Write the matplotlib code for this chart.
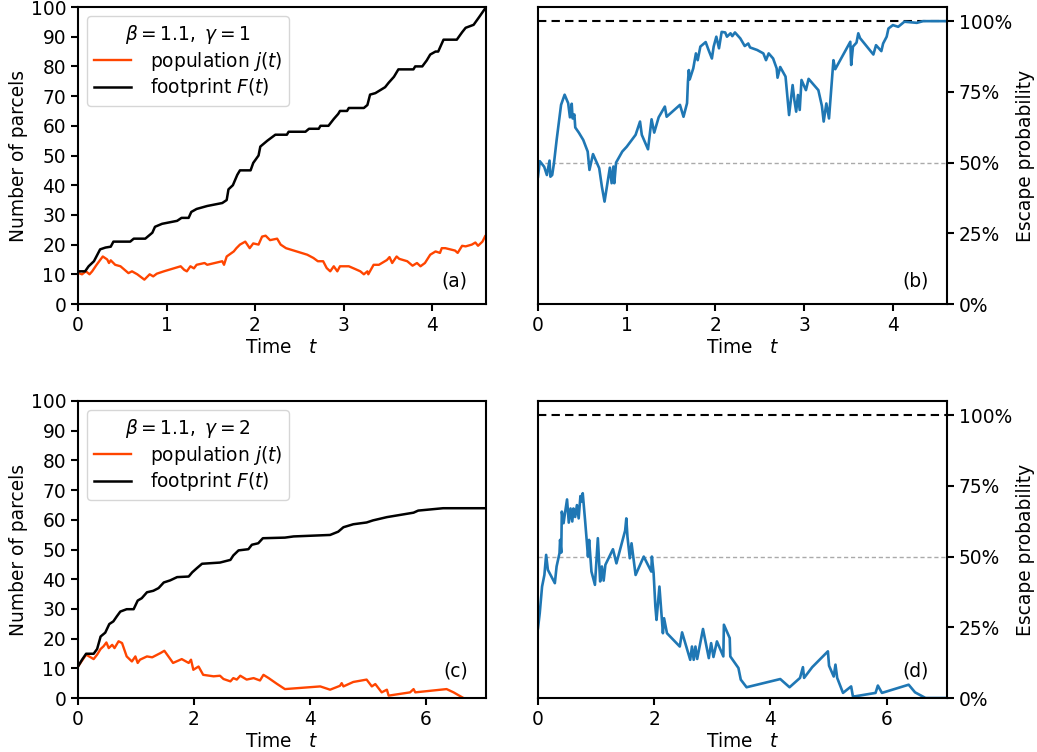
import matplotlib
matplotlib.use("Agg")
import matplotlib.pyplot as plt
from matplotlib.ticker import FixedLocator, FuncFormatter

# ---------------- data ----------------
# panel (a): beta=1.1, gamma=1
tF_a = [0, 0.08, 0.12, 0.18, 0.25, 0.31, 0.37, 0.40, 0.59, 0.63, 0.76, 0.84, 0.87, 0.95, 1.12,
        1.17, 1.25, 1.28, 1.34, 1.46, 1.63, 1.68, 1.70, 1.75, 1.80, 1.83, 1.95, 1.98, 2.04, 2.06,
        2.14, 2.23, 2.36, 2.38, 2.57, 2.61, 2.72, 2.74, 2.83, 2.89, 2.94, 2.96, 3.04, 3.06, 3.23,
        3.27, 3.30, 3.36, 3.47, 3.51, 3.57, 3.62, 3.79, 3.81, 3.89, 3.94, 3.98, 4.04, 4.07, 4.13,
        4.28, 4.34, 4.38, 4.47, 4.53, 4.60]
F_a = [11, 11, 12.7, 14.4, 18.4, 19, 19.3, 21, 21, 22, 22, 24, 26, 27, 28,
       29, 29, 31, 32, 33, 34, 35, 38.6, 40, 43.5, 45, 45, 47.5, 50, 53,
       55, 57, 57, 58, 58, 59, 59, 60, 60, 62.3, 64, 65, 65, 66, 66,
       67, 70.5, 71, 73, 74.5, 76.5, 79, 79, 80, 80, 82, 84, 85, 85, 89,
       89, 91.5, 93, 94, 96.5, 99.5]
tj_a = [0, 0.045, 0.09, 0.13, 0.16, 0.21, 0.28, 0.33, 0.35, 0.37, 0.42, 0.48, 0.57, 0.61, 0.67,
        0.75, 0.81, 0.85, 0.89, 0.97, 1.16, 1.20, 1.23, 1.27, 1.31, 1.34, 1.43, 1.46, 1.63, 1.65,
        1.68, 1.76, 1.79, 1.83, 1.89, 1.94, 1.98, 2.04, 2.08, 2.12, 2.17, 2.25, 2.29, 2.35, 2.47,
        2.59, 2.66, 2.71, 2.77, 2.81, 2.85, 2.89, 2.93, 2.96, 3.06, 3.13, 3.19, 3.23, 3.27, 3.28,
        3.34, 3.40, 3.49, 3.52, 3.55, 3.60, 3.63, 3.72, 3.78, 3.83, 3.87, 3.92, 3.98, 4.04, 4.09,
        4.11, 4.15, 4.26, 4.29, 4.34, 4.38, 4.45, 4.49, 4.52, 4.57, 4.60]
j_a = [10.5, 10, 11, 10, 11, 13.2, 16, 15, 13.8, 14.7, 13.2, 12.7, 10.4, 11, 10,
       8.2, 10, 9.3, 10.2, 11, 12.7, 11.5, 11, 12.7, 12, 13.2, 13.8, 13.2, 14.4, 13.2,
       16, 17.7, 18.8, 20, 21, 18.8, 20.4, 20, 22.7, 23, 21.5, 22, 20, 18.8, 17.7,
       16.6, 15.5, 14.4, 14.4, 12.1, 11, 12.7, 11, 12.7, 12.7, 11.8, 11, 10, 11, 10,
       13.2, 13.2, 14.8, 15.8, 13.8, 16, 15.2, 14.4, 12.9, 13.8, 12.7, 13.8, 16.6, 17.7, 17.2,
       18.8, 18.8, 18, 17.2, 19.6, 19.4, 20, 20.7, 19.6, 21, 22.8]

# panel (b): escape probability (percent)
tp_b = [0, 0.02, 0.07, 0.10, 0.13, 0.14, 0.16, 0.18, 0.21, 0.26,
        0.30, 0.34, 0.36, 0.38, 0.39, 0.41, 0.42, 0.46, 0.51, 0.56,
        0.58, 0.62, 0.69, 0.72, 0.75, 0.81, 0.83, 0.85, 0.86, 0.88,
        0.95, 1.00, 1.10, 1.15, 1.17, 1.24, 1.28, 1.31, 1.36, 1.43,
        1.45, 1.60, 1.64, 1.68, 1.69, 1.70, 1.71, 1.75, 1.78, 1.80,
        1.83, 1.89, 1.92, 1.96, 1.98, 2.01, 2.04, 2.07, 2.11, 2.13,
        2.17, 2.19, 2.22, 2.28, 2.33, 2.37, 2.39, 2.47, 2.54, 2.57,
        2.60, 2.65, 2.69, 2.70, 2.73, 2.79, 2.83, 2.87, 2.89, 2.91,
        2.93, 2.95, 2.97, 3.02, 3.05, 3.16, 3.20, 3.22, 3.25, 3.28,
        3.33, 3.35, 3.52, 3.53, 3.55, 3.59, 3.61, 3.63, 3.78, 3.81,
        3.87, 3.89, 3.93, 3.95, 4.00, 4.06, 4.13, 4.27, 4.34, 4.60]
p_b = [45, 50.5, 48.5, 45.6, 50.7, 45, 45.6, 49.8, 58, 70.4,
       74, 71, 66, 70.8, 65.6, 67, 62.4, 60.6, 58, 53.9,
       47.4, 53, 48, 41.5, 36.2, 48.2, 42.7, 48.6, 42.7, 50,
       53.9, 55.6, 59.8, 64.5, 59.8, 54.7, 65.3, 60.6, 66, 69.8,
       66.2, 70.4, 66.2, 71, 78.6, 82.7, 79.4, 83.3, 88.6, 86.2,
       91, 92.6, 90, 86.8, 91, 94.5, 90.4, 96.2, 96, 94.5,
       95.7, 94.7, 96, 93.9, 91.2, 92.1, 90.7, 89.8, 88.6, 86.2,
       88.6, 86.8, 83.3, 80, 83.8, 80.4, 66.8, 77.4, 72, 68,
       73.9, 68.6, 79.2, 75.6, 79.6, 75.6, 70, 64.5, 70.9, 65.6,
       86.2, 83, 92.7, 84.5, 91, 92.4, 95.7, 94, 88.2, 91.5,
       89.4, 92.1, 94.5, 97.4, 98.6, 98, 99.8, 99.4, 100, 100]

# panel (c): beta=1.1, gamma=2
tF_c = [0, 0.07, 0.14, 0.27, 0.33, 0.39, 0.47, 0.54, 0.61, 0.67,
        0.73, 0.84, 0.96, 1.03, 1.10, 1.19, 1.30, 1.39, 1.48, 1.59,
        1.71, 1.91, 1.97, 2.05, 2.14, 2.45, 2.63, 2.68, 2.77, 2.94,
        3.00, 3.11, 3.19, 3.57, 3.72, 4.35, 4.49, 4.58, 4.75, 4.98,
        5.09, 5.33, 5.79, 5.87, 6.30, 7.04]
F_c = [10.6, 12.9, 14.9, 14.9, 16.5, 20.7, 22, 24.9, 25.8, 27.5,
       29.1, 29.9, 29.9, 32.8, 33.6, 35.6, 36.1, 37, 38.9, 39.6,
       40.7, 40.9, 42.3, 43.7, 45.2, 45.6, 46.5, 48, 49.7, 50.1,
       51.6, 52.1, 53.8, 54, 54.4, 54.9, 56, 57.5, 58.5, 59.1,
       59.8, 60.9, 62.4, 63.1, 63.9, 63.9]
tj_c = [0, 0.14, 0.27, 0.33, 0.39, 0.44, 0.49, 0.53, 0.59, 0.63,
        0.70, 0.76, 0.84, 0.93, 0.99, 1.03, 1.07, 1.19, 1.28, 1.42,
        1.49, 1.56, 1.64, 1.79, 1.91, 1.95, 1.99, 2.08, 2.16, 2.34,
        2.45, 2.51, 2.63, 2.68, 2.74, 2.80, 2.91, 3.03, 3.14, 3.20,
        3.29, 3.43, 3.57, 4.18, 4.35, 4.52, 4.55, 4.58, 4.75, 4.98,
        5.07, 5.13, 5.24, 5.33, 5.36, 5.73, 5.79, 5.82, 6.36, 6.48,
        6.65]
j_c = [10.6, 14.6, 13.1, 14.6, 16.5, 17.4, 18.7, 16.8, 17.9, 16.8,
       19.1, 18.5, 14, 12.3, 14, 11.8, 12.9, 14, 13.7, 15.1,
       15.9, 14, 11.8, 13.1, 11.8, 12.9, 9.5, 10.6, 7.8, 7.3,
       7.5, 6.4, 5.6, 6.7, 6.2, 7.5, 6.2, 6.7, 5.9, 7.8,
       6.7, 4.8, 3.0, 3.9, 2.8, 4.1, 5.0, 3.9, 5.4, 6.2,
       3.9, 4.7, 1.9, 2.8, 0.8, 1.9, 3.0, 1.9, 3.0, 1.9,
       0]

# panel (d): escape probability (percent)
tp_d = [0, 0.03, 0.07, 0.11, 0.14, 0.17, 0.29, 0.32, 0.37, 0.38,
        0.40, 0.41, 0.44, 0.46, 0.50, 0.53, 0.56, 0.59, 0.61, 0.64,
        0.67, 0.70, 0.73, 0.76, 0.77, 0.81, 0.84, 0.86, 0.88, 0.92,
        0.98, 1.03, 1.07, 1.10, 1.13, 1.16, 1.29, 1.35, 1.50, 1.52,
        1.54, 1.58, 1.61, 1.68, 1.82, 1.95, 1.96, 1.99, 2.02, 2.04,
        2.09, 2.15, 2.17, 2.22, 2.44, 2.48, 2.62, 2.65, 2.68, 2.71,
        2.74, 2.84, 2.94, 2.98, 3.02, 3.08, 3.19, 3.20, 3.30, 3.31,
        3.45, 3.49, 3.59, 4.17, 4.33, 4.51, 4.56, 4.58, 4.72, 4.99,
        5.01, 5.09, 5.12, 5.15, 5.25, 5.39, 5.42, 5.46, 5.81, 5.85,
        5.92, 6.38, 6.49, 6.67, 7.04]
p_d = [24.7, 30, 39.4, 43.5, 50.6, 45.3, 40.6, 46.5, 51.2, 55.9,
       51.4, 65.9, 61.8, 64.7, 70.2, 62, 67, 62.4, 67, 64,
       68.2, 63.5, 71.4, 69.4, 72.4, 62.9, 55.3, 50, 55.9, 44.7,
       40, 56.5, 41.2, 46.5, 41.5, 47.1, 52.6, 47.6, 59.2, 63.5,
       57, 49.4, 54.7, 43.5, 50, 44.7, 50, 44.1, 32.4, 27.6,
       39.4, 22.9, 28.2, 22.9, 18.2, 23.2, 13.5, 18.2, 13.5, 18.2,
       13.8, 24.4, 14.1, 19.4, 14.5, 20, 14.7, 25.9, 21.2, 14.7,
       10.6, 6.5, 3.8, 6.7, 3.8, 7.1, 10.9, 7.1, 10.9, 16.5,
       11.4, 7.6, 11.8, 7.1, 1.8, 4.1, 0.6, 0.6, 1.8, 4.4,
       1.8, 4.7, 2.0, 0, 0]

legend_titles = [r"$\beta = 1.1,\ \gamma = 1$", r"$\beta = 1.1,\ \gamma = 2$"]
panel_tags = ["(a)", "(b)", "(c)", "(d)"]
xmax = [4.61, 7.04]

# ---------------- style ----------------
FS = 13.4
plt.rcParams.update({
    "font.family": "DejaVu Sans",
    "font.size": FS,
    "axes.linewidth": 1.5,
    "xtick.major.width": 1.5,
    "ytick.major.width": 1.5,
    "xtick.major.size": 5,
    "ytick.major.size": 5,
    "mathtext.fontset": "dejavusans",
})
ORANGE = "#ff4500"
BLUE = "#1f77b4"

fig = plt.figure(figsize=(10.37, 7.52), dpi=100)
W, H = 1037, 752
def add_ax(l, r, top, bot):
    return fig.add_axes([l / W, 1 - bot / H, (r - l) / W, (bot - top) / H])

ax_a = add_ax(78, 486, 7, 304)
ax_b = add_ax(538, 947, 7, 304)
ax_c = add_ax(78, 486, 401, 698)
ax_d = add_ax(538, 947, 401, 698)

pop_sets = [(ax_a, tj_a, j_a, tF_a, F_a), (ax_c, tj_c, j_c, tF_c, F_c)]
for k, (ax, tj, jj, tF, FF) in enumerate(pop_sets):
    ax.plot(tj, jj, color=ORANGE, lw=1.7, label=r"population $j(t)$")
    ax.plot(tF, FF, color="black", lw=1.8, label=r"footprint $F(t)$")
    ax.set_xlim(0, xmax[k])
    ax.set_ylim(0, 100)
    ax.set_yticks(range(0, 101, 10))
    ax.set_ylabel("Number of parcels", labelpad=2)
    ax.set_xlabel(r"Time   $t$", labelpad=2)
    ax.legend(title=legend_titles[k], loc="upper left", fontsize=FS,
              title_fontsize=FS, handlelength=2.0, labelspacing=0.2,
              borderpad=0.35, handletextpad=1.0)

prob_sets = [(ax_b, tp_b, p_b), (ax_d, tp_d, p_d)]
for k, (ax, tp, pp) in enumerate(prob_sets):
    ax.axhline(1.0, color="black", ls="--", lw=1.5, dashes=(4, 2.5))
    ax.axhline(0.5, color="#aaaaaa", ls="--", lw=1.0, dashes=(3, 2))
    ax.plot(tp, [v / 100 for v in pp], color=BLUE, lw=1.9)
    ax.set_xlim(0, xmax[k])
    ax.set_ylim(0, 1.05)
    ax.yaxis.tick_right()
    ax.yaxis.set_label_position("right")
    ax.yaxis.set_major_locator(FixedLocator([0, 0.25, 0.5, 0.75, 1.0]))
    ax.yaxis.set_major_formatter(FuncFormatter(lambda v, p: f"{int(round(v * 100))}%"))
    ax.set_ylabel("Escape probability", labelpad=3)
    ax.set_xlabel(r"Time   $t$", labelpad=2)

for ax in (ax_a, ax_b):
    ax.set_xticks(range(0, 5))
for ax in (ax_c, ax_d):
    ax.set_xticks(range(0, 8, 2))

for ax, tag in zip((ax_a, ax_b), panel_tags[:2]):
    ax.text(0.955, 0.045, tag, transform=ax.transAxes, ha="right", va="bottom", fontsize=FS)
for ax, tag in zip((ax_c, ax_d), panel_tags[2:]):
    ax.text(0.955, 0.06, tag, transform=ax.transAxes, ha="right", va="bottom", fontsize=FS)

fig.savefig("out.png", dpi=100)
